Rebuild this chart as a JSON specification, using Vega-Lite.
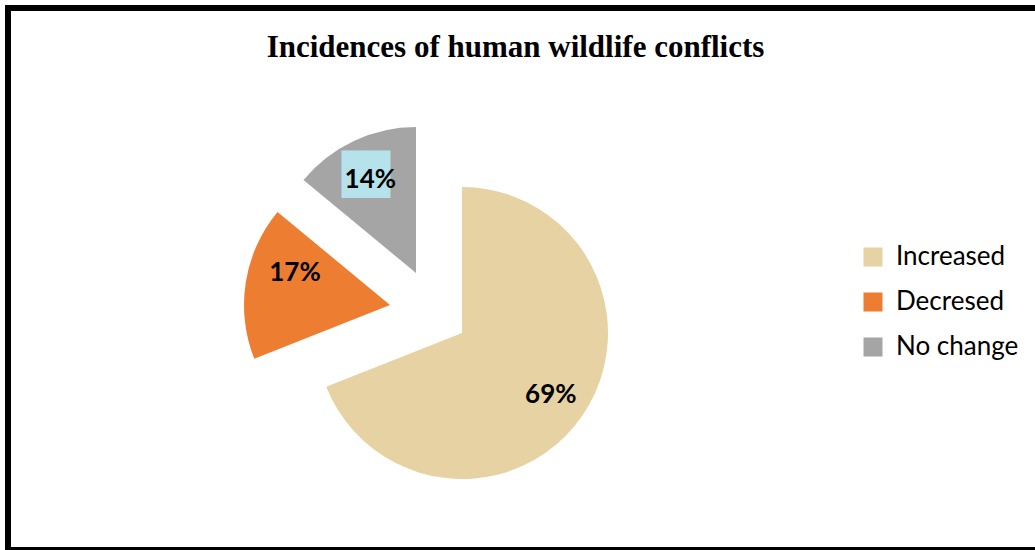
{
  "$schema": "https://vega.github.io/schema/vega-lite/v6.json",
  "width": 1035,
  "height": 550,
  "autosize": {"type": "fit", "contains": "padding"},
  "padding": {"left": 8, "top": 8, "right": -8, "bottom": 0},
  "background": "white",
  "view": {"stroke": "black", "strokeWidth": 6, "fill": "white"},
  "config": {"view": {"stroke": "black", "strokeWidth": 6}},
  "title": {
    "text": "Incidences of human wildlife conflicts",
    "font": "Liberation Serif",
    "fontSize": 31,
    "fontWeight": "bold",
    "color": "black",
    "anchor": "middle",
    "offset": -56,
    "dx": -10
  },
  "data": {
    "values": [
      {"category": "Increased", "value": 69, "label": "69%", "order": 1},
      {"category": "Decresed", "value": 17, "label": "17%", "order": 2},
      {"category": "No change", "value": 14, "label": "14%", "order": 3}
    ]
  },
  "encoding": {
    "theta": {"field": "value", "type": "quantitative", "stack": true},
    "order": {"field": "order", "type": "quantitative"},
    "color": {
      "field": "category",
      "type": "nominal",
      "scale": {"domain": ["Increased", "Decresed", "No change"], "range": ["#E6D2A2", "#ED7D31", "#A5A5A5"]},
      "legend": {
        "orient": "none",
        "legendX": 852,
        "legendY": 236,
        "title": null,
        "labelFont": "Lato",
        "labelFontSize": 26,
        "labelColor": "black",
        "labelOffset": 10,
        "symbolType": "square",
        "symbolSize": 361,
        "symbolStrokeWidth": 0,
        "rowPadding": 19
      }
    }
  },
  "layer": [
    {
      "mark": {"type": "arc", "radius": 146, "xOffset": -63.5, "yOffset": 54},
      "encoding": {"opacity": {"condition": {"test": "datum.category === 'Increased'", "value": 1}, "value": 0}}
    },
    {
      "mark": {"type": "arc", "radius": 146, "xOffset": -135.5, "yOffset": 26},
      "encoding": {"opacity": {"condition": {"test": "datum.category === 'Decresed'", "value": 1}, "value": 0}}
    },
    {
      "mark": {"type": "arc", "radius": 146, "xOffset": -109.5, "yOffset": -6},
      "encoding": {"opacity": {"condition": {"test": "datum.category === 'No change'", "value": 1}, "value": 0}}
    },
    {
      "mark": {"type": "text", "radius": 105, "xOffset": -115, "yOffset": -8, "font": "DejaVu Sans Mono", "fontSize": 40, "text": "██"},
      "encoding": {
        "color": {"value": "#B5E2EB"},
        "opacity": {"condition": {"test": "datum.category === 'No change'", "value": 1}, "value": 0}
      }
    },
    {
      "mark": {"type": "text", "radius": 105, "xOffset": -61.5, "yOffset": 57, "font": "Lato", "fontSize": 26, "fontWeight": "bold"},
      "encoding": {
        "text": {"field": "label"},
        "color": {"value": "black"},
        "opacity": {"condition": {"test": "datum.category === 'Increased'", "value": 1}, "value": 0}
      }
    },
    {
      "mark": {"type": "text", "radius": 105, "xOffset": -126.8, "yOffset": 10.4, "font": "Lato", "fontSize": 26, "fontWeight": "bold"},
      "encoding": {
        "text": {"field": "label"},
        "color": {"value": "black"},
        "opacity": {"condition": {"test": "datum.category === 'Decresed'", "value": 1}, "value": 0}
      }
    },
    {
      "mark": {"type": "text", "radius": 105, "xOffset": -110.5, "yOffset": -4, "font": "Lato", "fontSize": 26, "fontWeight": "bold"},
      "encoding": {
        "text": {"field": "label"},
        "color": {"value": "black"},
        "opacity": {"condition": {"test": "datum.category === 'No change'", "value": 1}, "value": 0}
      }
    }
  ]
}
